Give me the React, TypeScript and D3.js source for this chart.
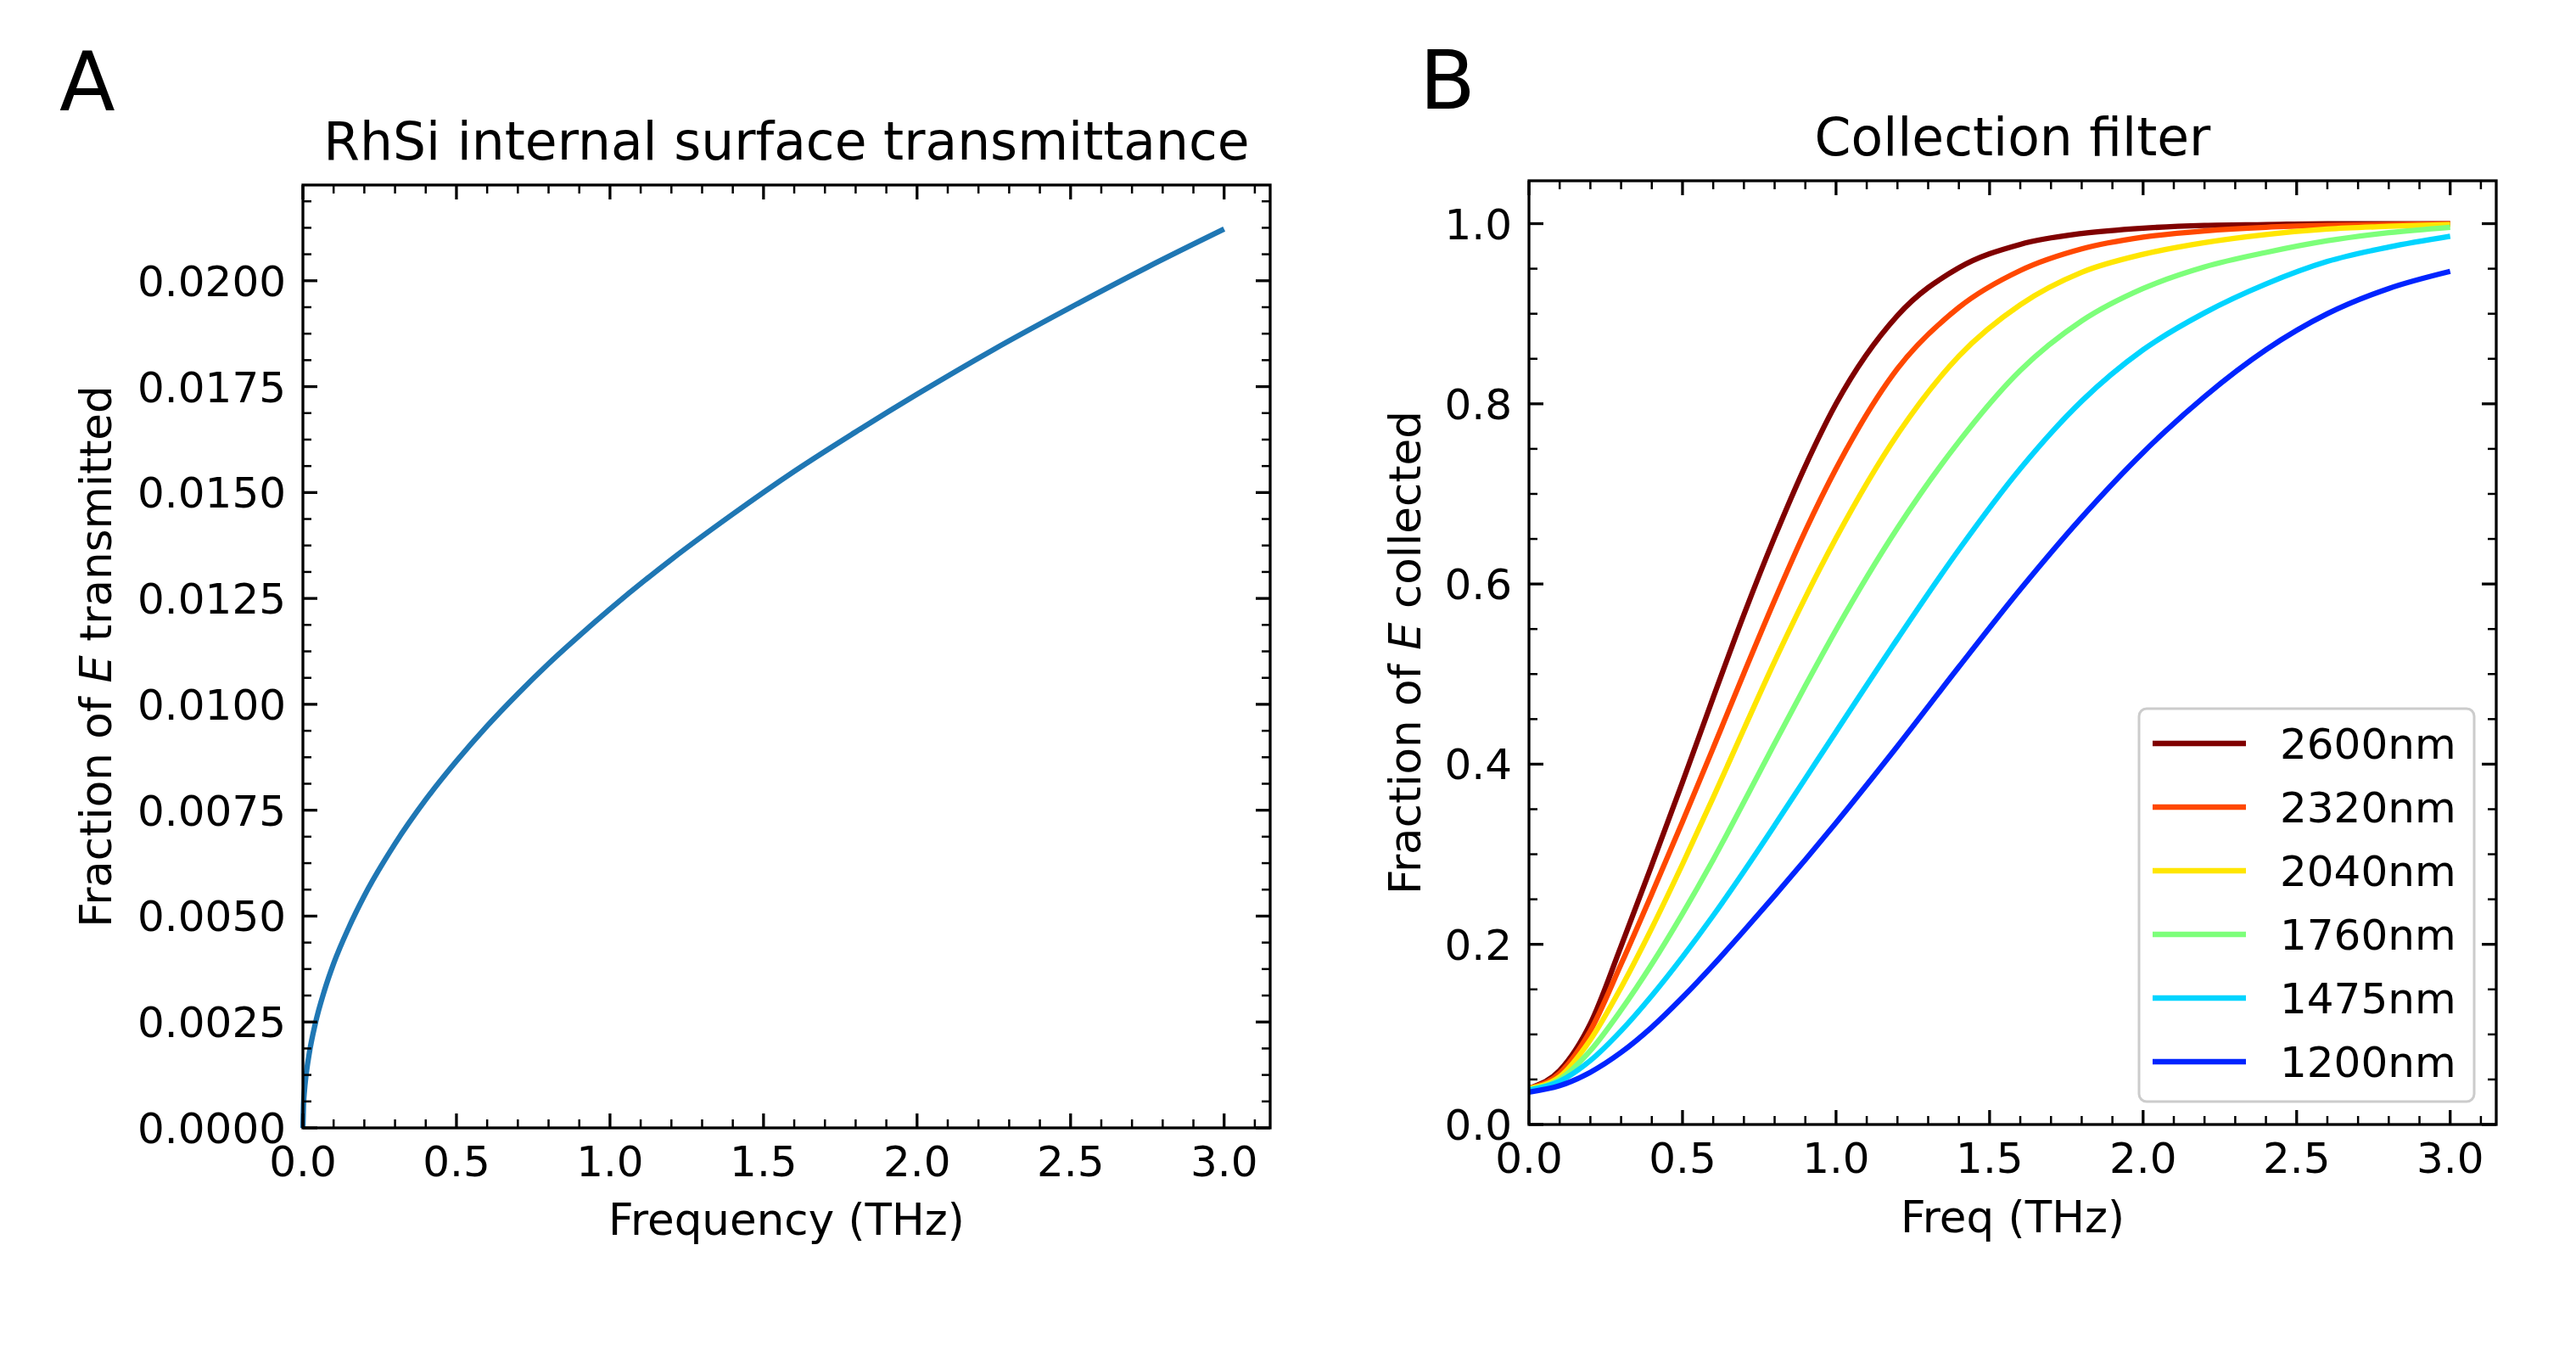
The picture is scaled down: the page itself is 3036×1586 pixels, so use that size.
import * as d3 from "d3";

// panel A: RhSi internal surface transmittance
const freqA = [
  0, 0.002, 0.005, 0.01, 0.02, 0.04, 0.07, 0.1, 0.15, 0.2, 0.3, 0.4, 0.5, 0.6,
  0.7, 0.8, 0.9, 1.0, 1.2, 1.4, 1.6, 1.8, 2.0, 2.25, 2.5, 2.75, 3.0,
];
const transA = [
  0, 0.00055, 0.00087, 0.00123, 0.00173, 0.00245, 0.00324, 0.00388, 0.00474,
  0.00548, 0.00671, 0.00775, 0.00866, 0.00949, 0.01025, 0.01096, 0.01162,
  0.01225, 0.01342, 0.01449, 0.0155, 0.01643, 0.01732, 0.01838, 0.01937,
  0.02032, 0.02122,
];
const yTicksA = [0, 0.0025, 0.005, 0.0075, 0.01, 0.0125, 0.015, 0.0175, 0.02];

// panel B: collection filter
const freqB = [
  0, 0.1, 0.2, 0.3, 0.4, 0.5, 0.6, 0.7, 0.8, 0.9, 1.0, 1.2, 1.4, 1.6, 1.8, 2.0,
  2.2, 2.4, 2.6, 2.8, 3.0,
];
const wavelengths = ["2600nm", "2320nm", "2040nm", "1760nm", "1475nm", "1200nm"];
const colors = ["#800000", "#ff4800", "#ffe600", "#7dff7a", "#00d4ff", "#0024ff"];
const s2600 = [0.04, 0.06, 0.112, 0.198, 0.288, 0.38, 0.474, 0.566, 0.652, 0.731, 0.8, 0.898, 0.951, 0.977, 0.989, 0.995, 0.998, 0.999, 1.0, 1.0, 1.0];
const s2320 = [0.04, 0.057, 0.104, 0.178, 0.256, 0.336, 0.418, 0.501, 0.582, 0.659, 0.728, 0.839, 0.907, 0.948, 0.972, 0.985, 0.992, 0.996, 0.998, 0.999, 1.0];
const s2040 = [0.04, 0.053, 0.094, 0.152, 0.218, 0.289, 0.363, 0.439, 0.514, 0.585, 0.651, 0.766, 0.853, 0.91, 0.946, 0.966, 0.979, 0.988, 0.994, 0.997, 0.999];
const s1760 = [0.039, 0.05, 0.082, 0.127, 0.178, 0.234, 0.294, 0.358, 0.423, 0.487, 0.549, 0.662, 0.758, 0.837, 0.892, 0.928, 0.952, 0.968, 0.981, 0.99, 0.996];
const s1475 = [0.038, 0.048, 0.071, 0.104, 0.143, 0.186, 0.232, 0.281, 0.332, 0.384, 0.436, 0.539, 0.638, 0.728, 0.803, 0.86, 0.901, 0.933, 0.958, 0.974, 0.986];
const s1200 = [0.036, 0.043, 0.058, 0.08, 0.108, 0.141, 0.177, 0.215, 0.254, 0.294, 0.335, 0.42, 0.508, 0.594, 0.674, 0.746, 0.808, 0.86, 0.9, 0.928, 0.947];
const seriesB = [s2600, s2320, s2040, s1760, s1475, s1200];
const yTicksB = [0, 0.2, 0.4, 0.6, 0.8, 1.0];

const xTicks = [0, 0.5, 1.0, 1.5, 2.0, 2.5, 3.0];

const FONT = "DejaVu Sans, sans-serif";
const MAJOR = 17;
const MINOR = 10;

type Box = { left: number; right: number; top: number; bottom: number };

const Frame = ({
  box,
  x,
  y,
  yMajor,
  yMinor,
  yFmt,
}: {
  box: Box;
  x: d3.ScaleLinear<number, number>;
  y: d3.ScaleLinear<number, number>;
  yMajor: number[];
  yMinor: number[];
  yFmt: (v: number) => string;
}) => {
  const xMinor = d3.range(0, 3.151, 0.1).filter((v) => Math.abs(v * 2 - Math.round(v * 2)) > 1e-6);
  return (
    <g stroke="#000">
      {xTicks.map((v) => (
        <g key={"xM" + v} strokeWidth={3.3}>
          <line x1={x(v)} x2={x(v)} y1={box.bottom} y2={box.bottom - MAJOR} />
          <line x1={x(v)} x2={x(v)} y1={box.top} y2={box.top + MAJOR} />
        </g>
      ))}
      {xMinor.map((v) => (
        <g key={"xm" + v} strokeWidth={2.5}>
          <line x1={x(v)} x2={x(v)} y1={box.bottom} y2={box.bottom - MINOR} />
          <line x1={x(v)} x2={x(v)} y1={box.top} y2={box.top + MINOR} />
        </g>
      ))}
      {yMajor.map((v) => (
        <g key={"yM" + v} strokeWidth={3.3}>
          <line x1={box.left} x2={box.left + MAJOR} y1={y(v)} y2={y(v)} />
          <line x1={box.right} x2={box.right - MAJOR} y1={y(v)} y2={y(v)} />
        </g>
      ))}
      {yMinor.map((v) => (
        <g key={"ym" + v} strokeWidth={2.5}>
          <line x1={box.left} x2={box.left + MINOR} y1={y(v)} y2={y(v)} />
          <line x1={box.right} x2={box.right - MINOR} y1={y(v)} y2={y(v)} />
        </g>
      ))}
      <rect
        x={box.left}
        y={box.top}
        width={box.right - box.left}
        height={box.bottom - box.top}
        fill="none"
        strokeWidth={3.3}
      />
      <g stroke="none" fill="#000" fontFamily={FONT} fontSize={50}>
        {xTicks.map((v) => (
          <text key={"xl" + v} x={x(v)} y={box.bottom + 57} textAnchor="middle">
            {v.toFixed(1)}
          </text>
        ))}
        {yMajor.map((v) => (
          <text key={"yl" + v} x={box.left - 20} y={y(v) + 18} textAnchor="end">
            {yFmt(v)}
          </text>
        ))}
      </g>
    </g>
  );
};

const App = () => {
  const boxA: Box = { left: 357, right: 1497, top: 218, bottom: 1329 };
  const boxB: Box = { left: 1802, right: 2942, top: 213, bottom: 1325 };

  const xA = d3.scaleLinear().domain([0, 3.15]).range([boxA.left, boxA.right]);
  const yA = d3.scaleLinear().domain([0, 0.02226]).range([boxA.bottom, boxA.top]);
  const xB = d3.scaleLinear().domain([0, 3.15]).range([boxB.left, boxB.right]);
  const yB = d3.scaleLinear().domain([0, 1.0476]).range([boxB.bottom, boxB.top]);

  const lineA = d3
    .line<number>()
    .x((_, i) => xA(freqA[i]))
    .y((d) => yA(d))
    .curve(d3.curveMonotoneX);
  const lineB = d3
    .line<number>()
    .x((_, i) => xB(freqB[i]))
    .y((d) => yB(d))
    .curve(d3.curveMonotoneX);

  const yMinorA = d3.range(0, 0.02226, 0.000625).filter((_, i) => i % 4 !== 0);
  const yMinorB = d3.range(0, 1.0476, 0.05).filter((_, i) => i % 4 !== 0);

  const legendX = 2521;
  const legendY = 835;

  return (
    <svg
      width={3036}
      height={1586}
      style={{ position: "absolute", left: 0, top: 0, background: "#fff" }}
    >
      <rect width={3036} height={1586} fill="#fff" />

      {/* panel A */}
      <text x={70} y={130} fontFamily={FONT} fontSize={96}>
        A
      </text>
      <text
        x={(boxA.left + boxA.right) / 2}
        y={boxA.top - 30}
        fontFamily={FONT}
        fontSize={61.5}
        textAnchor="middle"
      >
        RhSi internal surface transmittance
      </text>
      <path d={lineA(transA) || ""} fill="none" stroke="#1f77b4" strokeWidth={6.3} />
      <Frame
        box={boxA}
        x={xA}
        y={yA}
        yMajor={yTicksA}
        yMinor={yMinorA}
        yFmt={(v) => v.toFixed(4)}
      />
      <text
        x={(boxA.left + boxA.right) / 2}
        y={boxA.bottom + 126}
        fontFamily={FONT}
        fontSize={51.5}
        textAnchor="middle"
      >
        Frequency (THz)
      </text>
      <text
        transform={`translate(131,${(boxA.top + boxA.bottom) / 2}) rotate(-90)`}
        fontFamily={FONT}
        fontSize={51.5}
        textAnchor="middle"
      >
        Fraction of <tspan fontStyle="italic">E</tspan> transmitted
      </text>

      {/* panel B */}
      <text x={1673} y={128} fontFamily={FONT} fontSize={96}>
        B
      </text>
      <text
        x={(boxB.left + boxB.right) / 2}
        y={boxB.top - 30}
        fontFamily={FONT}
        fontSize={61.5}
        textAnchor="middle"
      >
        Collection filter
      </text>
      {seriesB.map((s, k) => (
        <path
          key={wavelengths[k]}
          d={lineB(s) || ""}
          fill="none"
          stroke={colors[k]}
          strokeWidth={6.3}
        />
      ))}
      <Frame
        box={boxB}
        x={xB}
        y={yB}
        yMajor={yTicksB}
        yMinor={yMinorB}
        yFmt={(v) => v.toFixed(1)}
      />
      <text
        x={(boxB.left + boxB.right) / 2}
        y={boxB.bottom + 127}
        fontFamily={FONT}
        fontSize={51.5}
        textAnchor="middle"
      >
        Freq (THz)
      </text>
      <text
        transform={`translate(1674,${(boxB.top + boxB.bottom) / 2}) rotate(-90)`}
        fontFamily={FONT}
        fontSize={51.5}
        textAnchor="middle"
      >
        Fraction of <tspan fontStyle="italic">E</tspan> collected
      </text>

      {/* legend */}
      <rect
        x={legendX}
        y={legendY}
        width={395}
        height={463}
        rx={9}
        fill="#fff"
        fillOpacity={0.8}
        stroke="#cccccc"
        strokeWidth={3}
      />
      {wavelengths.map((w, k) => {
        const cy = legendY + 41 + k * 75;
        return (
          <g key={"lg" + w}>
            <line x1={2537} x2={2647} y1={cy} y2={cy} stroke={colors[k]} strokeWidth={6.3} />
            <text x={2687} y={cy + 18} fontFamily={FONT} fontSize={50}>
              {w}
            </text>
          </g>
        );
      })}
    </svg>
  );
};

export default App;
